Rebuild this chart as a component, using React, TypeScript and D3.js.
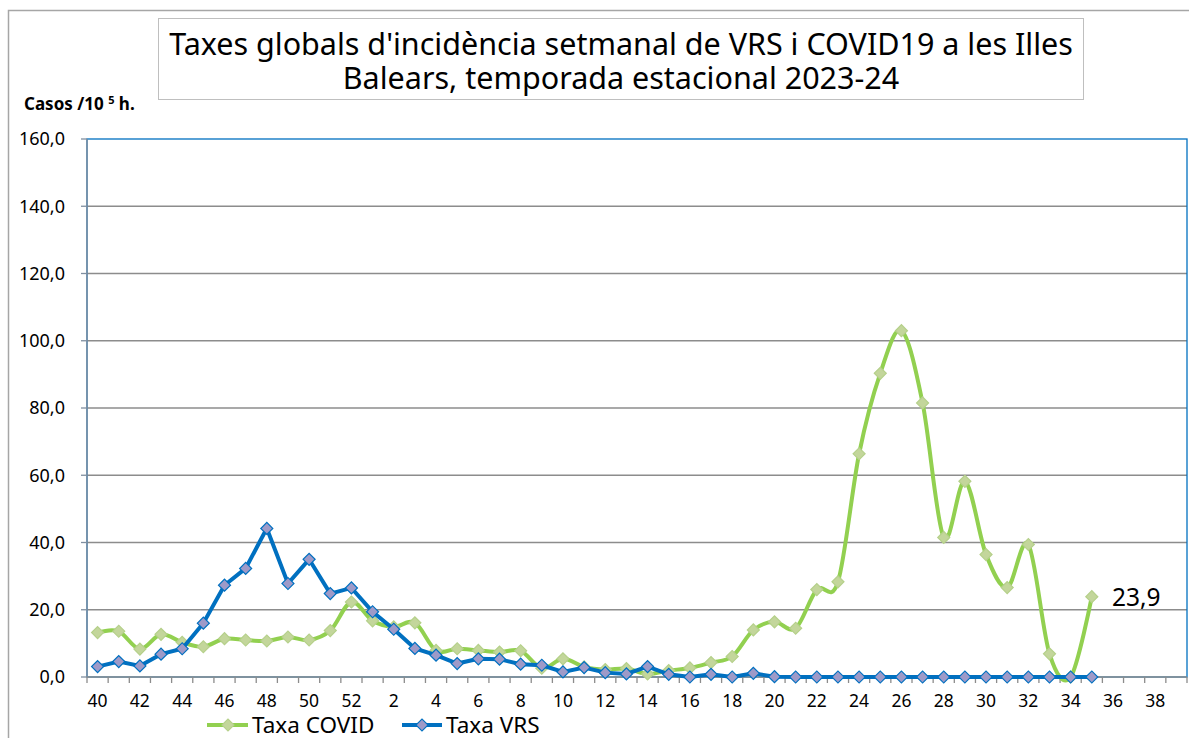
import React from 'react';
import * as d3 from 'd3';

// weeks of the 2023-24 season (epidemiological weeks)
const weeks = [40, 41, 42, 43, 44, 45, 46, 47, 48, 49, 50, 51, 52,
  1, 2, 3, 4, 5, 6, 7, 8, 9, 10, 11, 12, 13, 14, 15, 16, 17, 18, 19, 20,
  21, 22, 23, 24, 25, 26, 27, 28, 29, 30, 31, 32, 33, 34, 35, 36, 37, 38, 39];

const covidRates = [13.2, 13.6, 8.3, 12.7, 10.3, 9.0, 11.4, 11.0, 10.7, 11.9, 11.0, 13.8, 22.3,
  16.7, 14.9, 16.1, 7.9, 8.4, 7.9, 7.4, 7.8, 2.6, 5.4, 3.0, 2.2, 2.5, 0.9, 1.9, 2.7, 4.3, 6.1,
  14.0, 16.4, 14.5, 26.0, 28.3, 66.4, 90.3, 103.0, 81.5, 41.5, 58.2, 36.4, 26.6, 39.4, 6.9, 0.0, 23.9];

const vrsRates = [3.1, 4.6, 3.3, 6.8, 8.4, 16.0, 27.3, 32.3, 44.2, 27.8, 35.0, 24.8, 26.5,
  19.4, 14.2, 8.5, 6.5, 4.0, 5.4, 5.3, 3.8, 3.5, 1.5, 2.8, 1.3, 0.9, 3.1, 0.8, 0.0, 0.8, 0.0,
  1.1, 0.1, 0.0, 0.0, 0.0, 0.0, 0.0, 0.0, 0.0, 0.0, 0.0, 0.0, 0.0, 0.0, 0.0, 0.0, 0.0];

const yTicks = [0, 20, 40, 60, 80, 100, 120, 140, 160];

const W = 1189;
const H = 738;
const plot = { left: 87, right: 1187, top: 139, bottom: 677 };
const font = '"Noto Sans", "Open Sans", sans-serif';

const covidLine = '#92D050';
const covidFill = '#C3D69B';
const vrsLine = '#0070C0';
const vrsFill = '#9E9AC8';

export default function App() {
  const x = d3.scaleBand<number>()
    .domain(weeks)
    .range([plot.left, plot.right])
    .padding(0);
  const y = d3.scaleLinear().domain([0, 160]).range([plot.bottom, plot.top]);
  const cx = (i: number) => (x(weeks[i]) as number) + x.bandwidth() / 2;

  const smooth = d3.line<number>()
    .x((_, i) => cx(i))
    .y(d => y(d))
    .curve(d3.curveCatmullRom.alpha(0));
  const straight = d3.line<number>()
    .x((_, i) => cx(i))
    .y(d => y(d));

  const diamond = d3.symbol().type(d3.symbolSquare).size(72)();
  const fmt = (v: number) => v.toFixed(1).replace('.', ',');

  const marker = (key: string, px: number, py: number, fill: string, stroke: string) => (
    <path key={key} d={diamond as string} transform={`translate(${px},${py}) rotate(45)`}
      fill={fill} stroke={stroke} strokeWidth={1.2} />
  );

  const last = covidRates.length - 1;

  return (
    <svg width={W} height={H} style={{ position: 'absolute', left: 0, top: 0, background: '#fff' }}
      fontFamily={font}>
      {/* chart frame */}
      <rect x={8.5} y={10.5} width={W} height={H} fill="none" stroke="#a6a6a6" strokeWidth={1.5} />

      {/* title */}
      <rect x={158.5} y={18.5} width={925} height={81} fill="#fff" stroke="#bfbfbf" />
      <text x={621} y={55} textAnchor="middle" fontSize={30.5} fill="#000">
        Taxes globals d'incidència setmanal de VRS i COVID19 a les Illes
      </text>
      <text x={621} y={89} textAnchor="middle" fontSize={30.5} fill="#000">
        Balears, temporada estacional 2023-24
      </text>

      {/* unit label */}
      <text x={24} y={110} fontSize={17} fontWeight="bold" fill="#000">
        Casos /10 <tspan dy={-6} fontSize={11}>5</tspan><tspan dy={6}> h.</tspan>
      </text>

      {/* gridlines */}
      {yTicks.filter(t => t > 0 && t < 160).map(t => (
        <line key={t} x1={plot.left} x2={plot.right} y1={y(t)} y2={y(t)} stroke="#8c8c8c" strokeWidth={1.3} />
      ))}
      <rect x={plot.left} y={plot.top} width={plot.right - plot.left} height={plot.bottom - plot.top}
        fill="none" stroke={vrsLine} strokeWidth={1.3} />

      {/* y axis */}
      <line x1={plot.left} x2={plot.left} y1={plot.top} y2={plot.bottom} stroke="#7f8fa0" strokeWidth={1.5} />
      {yTicks.map(t => (
        <g key={t}>
          <line x1={plot.left - 6} x2={plot.left} y1={y(t)} y2={y(t)} stroke="#7f8fa0" strokeWidth={1.3} />
          <text x={65} y={y(t)} dy="0.35em" textAnchor="end" fontSize={18} fill="#000">{fmt(t)}</text>
        </g>
      ))}

      {/* x axis */}
      <line x1={plot.left} x2={plot.right} y1={plot.bottom} y2={plot.bottom} stroke="#8c8c8c" strokeWidth={1.5} />
      {weeks.map((w, i) => (
        <line key={`t${i}`} x1={x(w) as number} x2={x(w) as number} y1={plot.bottom} y2={plot.bottom + 6}
          stroke="#8c8c8c" strokeWidth={1.3} />
      ))}
      <line x1={plot.right} x2={plot.right} y1={plot.bottom} y2={plot.bottom + 6} stroke="#8c8c8c" strokeWidth={1.3} />
      {weeks.map((w, i) => i % 2 === 0 ? (
        <text key={`l${i}`} x={cx(i)} y={707} textAnchor="middle" fontSize={17.5} fill="#000">{w}</text>
      ) : null)}

      {/* COVID series */}
      <path d={smooth(covidRates) as string} fill="none" stroke={covidLine} strokeWidth={4} />
      {covidRates.map((v, i) => marker(`c${i}`, cx(i), y(v), covidFill, '#b5d08a'))}

      {/* VRS series */}
      <path d={straight(vrsRates) as string} fill="none" stroke={vrsLine} strokeWidth={4} />
      {vrsRates.map((v, i) => marker(`v${i}`, cx(i), y(v), vrsFill, vrsLine))}

      {/* data label on last COVID value */}
      <text x={1112} y={606} fontSize={24.5} fill="#000">
        {fmt(covidRates[last])}
      </text>

      {/* legend */}
      <line x1={207} x2={248} y1={725} y2={725} stroke={covidLine} strokeWidth={4} />
      {marker('lc', 228, 725, covidFill, '#b5d08a')}
      <text x={252} y={725} dy="0.35em" fontSize={22.5} fill="#000">Taxa COVID</text>
      <line x1={402} x2={442} y1={725} y2={725} stroke={vrsLine} strokeWidth={4} />
      {marker('lv', 422, 725, vrsFill, vrsLine)}
      <text x={446} y={725} dy="0.35em" fontSize={22.5} fill="#000">Taxa VRS</text>
    </svg>
  );
}
